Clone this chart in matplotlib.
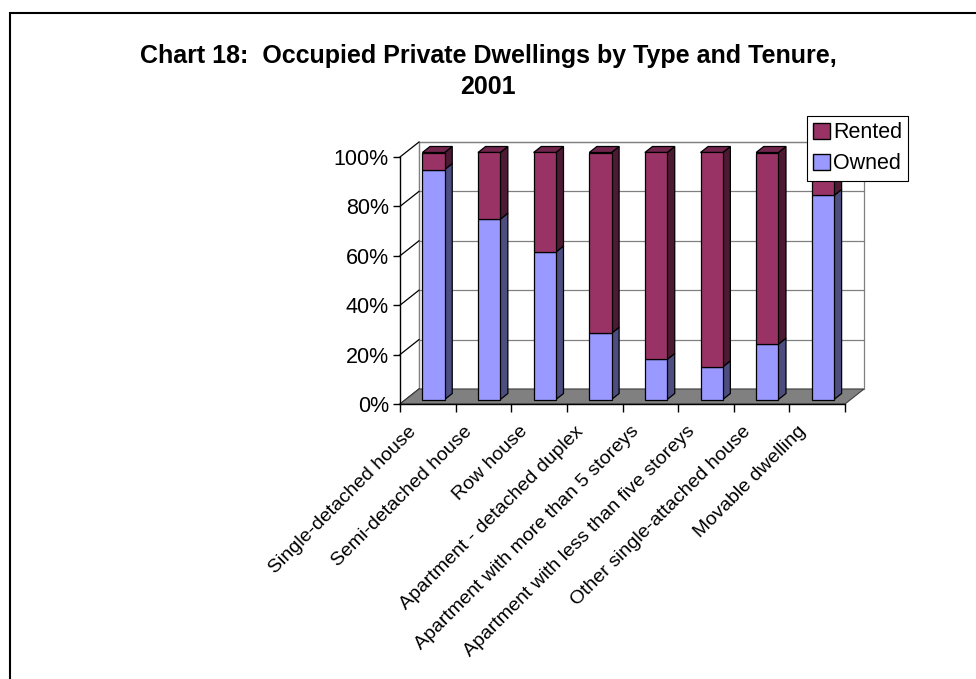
import matplotlib
matplotlib.use('Agg')
import matplotlib.pyplot as plt
from matplotlib.patches import Polygon, Rectangle, Patch
import numpy as np

categories = ["Single-detached house", "Semi-detached house", "Row house",
              "Apartment - detached duplex", "Apartment with more than 5 storeys",
              "Apartment with less than five storeys", "Other single-attached house",
              "Movable dwelling"]
owned = [93.1, 73.0, 59.7, 26.8, 16.2, 13.2, 22.4, 82.6]
rented = [6.9, 27.0, 40.3, 73.2, 83.8, 86.8, 77.6, 17.4]
yticks = [0, 20, 40, 60, 80, 100]
ytick_labels = ["0%", "20%", "40%", "60%", "80%", "100%"]
series_names = ["Rented", "Owned"]
title = "Chart 18:  Occupied Private Dwellings by Type and Tenure,\n2001"

plt.rcParams['font.family'] = ['Liberation Sans', 'DejaVu Sans']

W, H = 976, 679
fig = plt.figure(figsize=(W / 100, H / 100), dpi=100)
fig.patch.set_facecolor('white')

ax_l, ax_r, ax_b, ax_t = 400, 845, 404, 157
ax = fig.add_axes([ax_l / W, (H - ax_b) / H, (ax_r - ax_l) / W, (ax_b - ax_t) / H])
n = len(categories)
ax.set_xlim(0, n)
ax.set_ylim(0, 100)
ax.patch.set_visible(False)

# depth offsets in data units
px_x = n / (ax_r - ax_l)
px_y = 100 / (ax_b - ax_t)
DX = 19 * px_x
DY = 15 * px_y

grid_c = '#808080'
# back wall
ax.add_patch(Rectangle((DX, DY), n, 100, facecolor='white', edgecolor=grid_c,
                       lw=0.9, clip_on=False, zorder=0.5))
# floor
ax.add_patch(Polygon([(0, 0), (n, 0), (n + DX, DY), (DX, DY)], closed=True,
                     facecolor='#808080', edgecolor='#404040', lw=0.8,
                     clip_on=False, zorder=1))
for v in yticks:
    if v > 0:
        ax.plot([DX, n + DX], [v + DY, v + DY], color=grid_c, lw=0.9,
                clip_on=False, zorder=0.8)
    ax.plot([0, DX], [v, v + DY], color='black', lw=0.9, clip_on=False, zorder=0.9)
ax.plot([DX, DX], [DY, 100 + DY], color=grid_c, lw=0.9, clip_on=False, zorder=0.8)

# bars
bw = 0.4
f0 = 0.3   # front gap fraction of depth
fd = 0.4   # bar depth fraction
x_c = np.arange(n) + 0.5 + f0 * DX
base = f0 * DY
owned_arr = np.array(owned)
rented_arr = np.array(rented)

faces = {
    'Owned': ('#9999FF', '#4D4D80', '#7A7ACC'),
    'Rented': ('#993366', '#4D1A33', '#73264D'),
}
bottoms = {'Owned': np.zeros(n), 'Rented': owned_arr}
values = {'Owned': owned_arr, 'Rented': rented_arr}
for name in ['Owned', 'Rented']:
    front, side, top = faces[name]
    vals = values[name]
    bots = bottoms[name]
    ax.bar(x_c, vals, width=bw, bottom=base + bots, color=front,
           edgecolor='black', lw=0.9, zorder=3, clip_on=False)
    for i in range(n):
        xr = x_c[i] + bw / 2
        xl = x_c[i] - bw / 2
        b = base + bots[i]
        t = base + bots[i] + vals[i]
        ax.add_patch(Polygon([(xr, b), (xr + fd * DX, b + fd * DY),
                              (xr + fd * DX, t + fd * DY), (xr, t)], closed=True,
                             facecolor=side, edgecolor='black', lw=0.9,
                             zorder=2.9, clip_on=False))
        if name == 'Rented':
            ax.add_patch(Polygon([(xl, t), (xr, t), (xr + fd * DX, t + fd * DY),
                                  (xl + fd * DX, t + fd * DY)], closed=True,
                                 facecolor=top, edgecolor='black', lw=0.9,
                                 zorder=2.9, clip_on=False))

# axes styling
for s in ['top', 'right']:
    ax.spines[s].set_visible(False)
for s in ['left', 'bottom']:
    ax.spines[s].set_color('black')
    ax.spines[s].set_linewidth(1.0)
    ax.spines[s].set_zorder(4)

ax.set_yticks(yticks)
ax.set_yticklabels(ytick_labels, fontsize=15.5)
ax.tick_params(axis='y', length=5, width=1, pad=3, direction='out', colors='black')

ax.set_xticks(np.arange(n + 1))
ax.set_xticklabels([''] * (n + 1))
ax.tick_params(axis='x', which='major', length=6, width=1, direction='out')

# category labels, rotated 45 degrees, ending just left of each category centre
for i, cat in enumerate(categories):
    ax.annotate(cat, xy=(i + 0.5, 0), xycoords='data',
                xytext=(-14.4, -13.7), textcoords='offset points',
                rotation=45, ha='right', va='top', rotation_mode='anchor',
                fontsize=14, annotation_clip=False)

# legend
handles = [Patch(facecolor=faces[nm][0], edgecolor='black', label=nm) for nm in series_names]
leg = fig.legend(handles=handles, loc='upper left',
                 bbox_to_anchor=(807 / W, 1 - 116 / H), fontsize=15.5,
                 frameon=True, fancybox=False, edgecolor='black', framealpha=1,
                 borderpad=0.3, handlelength=0.75, handleheight=0.75,
                 handletextpad=0.15, labelspacing=0.45, borderaxespad=0)
leg.get_frame().set_linewidth(0.8)
leg.set_zorder(10)

# title
fig.text(0.5, 1 - 71.5 / H, title, ha='center', va='center', fontsize=18,
         fontweight='bold', linespacing=1.35)

# outer frame (cropped)
fig.add_artist(Rectangle((10 / W, -0.05), 1.2, (H - 13) / H + 0.05,
                         transform=fig.transFigure, fill=False,
                         edgecolor='black', lw=1.5))

fig.savefig('out.png', dpi=100)
